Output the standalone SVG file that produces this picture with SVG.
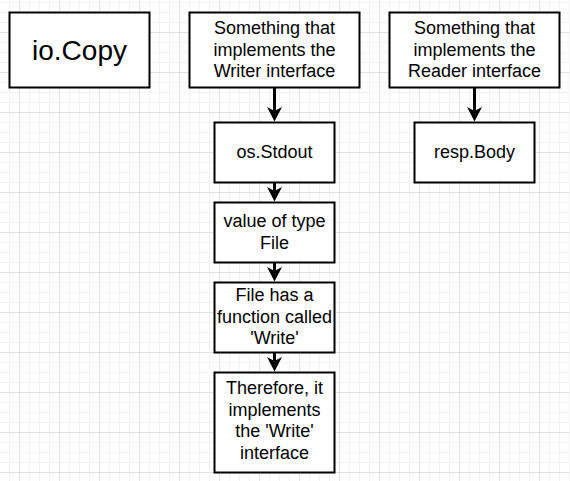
<svg xmlns="http://www.w3.org/2000/svg" width="570" height="481" viewBox="0 0 570 481">
<style>
.box{fill:#fff;stroke:#000;stroke-width:2}
.t{font-family:"Liberation Sans",Arial,sans-serif;font-size:18px;fill:#000;text-anchor:middle}
.big{font-size:28px}
.edge{stroke:#000;stroke-width:3;fill:none;marker-end:url(#arr)}
</style>
<defs>
<pattern id="grid" patternUnits="userSpaceOnUse" x="0" y="0" width="40" height="40">
<path d="M9.5,0V40M29.5,0V40M39.5,0V40M0,2.5H40M0,12.5H40M0,22.5H40" stroke="#f3f3f3" stroke-width="1" fill="none"/>
<path d="M19.5,0V40M0,32.5H40" stroke="#e1e1e1" stroke-width="1" fill="none"/>
</pattern>
<marker id="arr" markerUnits="userSpaceOnUse" viewBox="0 0 15 15" markerWidth="15" markerHeight="15" refX="4" refY="7.5" orient="auto">
<path d="M14.5,7.5L0,0L4,7.5L0,15Z" fill="#000"/>
</marker>
</defs>
<rect width="570" height="481" fill="#fff"/>
<rect width="570" height="481" fill="url(#grid)"/>
<g id="connectors">
<line class="edge" x1="274.5" y1="87.5" x2="274.5" y2="111"/>
<line class="edge" x1="274.5" y1="182.5" x2="274.5" y2="191"/>
<line class="edge" x1="274.5" y1="262.5" x2="274.5" y2="271"/>
<line class="edge" x1="274.5" y1="352.5" x2="274.5" y2="361"/>
<line class="edge" x1="474.5" y1="87.5" x2="474.5" y2="111"/>
</g>
<g id="iocopy">
<rect class="box" x="9.5" y="12.5" width="140" height="75"/>
<text class="t big" x="79.5" y="60">io.Copy</text>
</g>
<g id="writer">
<rect class="box" x="189.5" y="12.5" width="170" height="75"/>
<text class="t" x="274.5" y="34">Something that</text>
<text class="t" x="274.5" y="55.5">implements the</text>
<text class="t" x="274.5" y="77">Writer interface</text>
</g>
<g id="reader">
<rect class="box" x="389.5" y="12.5" width="170" height="75"/>
<text class="t" x="474.5" y="34">Something that</text>
<text class="t" x="474.5" y="55.5">implements the</text>
<text class="t" x="474.5" y="77">Reader interface</text>
</g>
<g id="stdout">
<rect class="box" x="214.5" y="122.5" width="120" height="60"/>
<text class="t" x="274.5" y="158">os.Stdout</text>
</g>
<g id="respbody">
<rect class="box" x="414.5" y="122.5" width="120" height="60"/>
<text class="t" x="474.5" y="158">resp.Body</text>
</g>
<g id="filevalue">
<rect class="box" x="214.5" y="202.5" width="120" height="60"/>
<text class="t" x="274.5" y="227">value of type</text>
<text class="t" x="274.5" y="248.5">File</text>
</g>
<g id="filewrite">
<rect class="box" x="214.5" y="282.5" width="120" height="70"/>
<text class="t" x="274.5" y="301">File has a</text>
<text class="t" x="274.5" y="322.5">function called</text>
<text class="t" x="274.5" y="344">'Write'</text>
</g>
<g id="therefore">
<rect class="box" x="214.5" y="372.5" width="120" height="100"/>
<text class="t" x="274.5" y="394">Therefore, it</text>
<text class="t" x="274.5" y="415.5">implements</text>
<text class="t" x="274.5" y="437">the 'Write'</text>
<text class="t" x="274.5" y="458.5">interface</text>
</g>
</svg>
